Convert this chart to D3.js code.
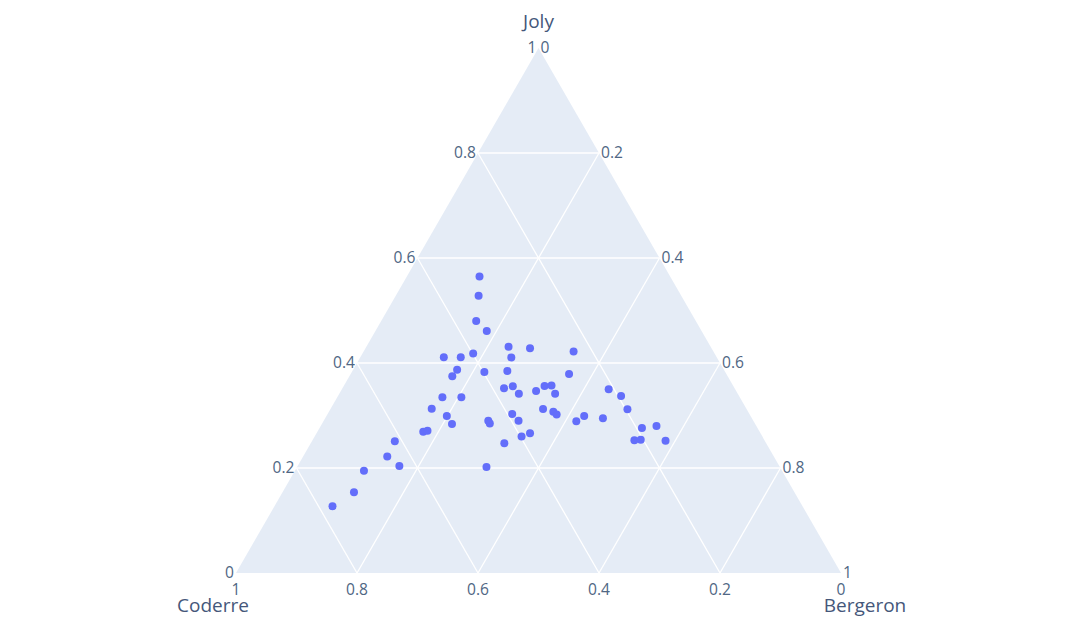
<!DOCTYPE html>
<html>
<head>
<meta charset="utf-8">
<script src="https://cdn.jsdelivr.net/npm/d3@7"></script>
<style>
  html, body { margin: 0; padding: 0; background: #fff; }
  svg { display: block; font-family: "Open Sans", sans-serif; }
</style>
</head>
<body>
<svg id="chart" width="1080" height="635"></svg>
<script>
// Shares per district (Joly = a, Coderre = b, Bergeron = c)
const joly = [0.127,0.154,0.195,0.222,0.204,0.251,0.269,0.271,0.313,0.299,0.284,0.335,0.335,0.375,0.387,0.411,0.411,0.418,0.565,0.528,0.480,0.461,0.383,0.431,0.411,0.385,0.428,0.422,0.290,0.285,0.202,0.247,0.352,0.356,0.342,0.347,0.356,0.357,0.342,0.379,0.303,0.290,0.312,0.307,0.302,0.260,0.266,0.289,0.299,0.295,0.350,0.337,0.312,0.276,0.280,0.253,0.254,0.252];
const coderre = [0.777,0.728,0.691,0.639,0.628,0.612,0.556,0.548,0.520,0.502,0.501,0.492,0.460,0.455,0.441,0.451,0.423,0.399,0.315,0.335,0.363,0.355,0.398,0.334,0.340,0.359,0.300,0.231,0.438,0.438,0.485,0.433,0.381,0.365,0.362,0.331,0.312,0.300,0.302,0.260,0.392,0.388,0.336,0.322,0.319,0.398,0.381,0.293,0.275,0.246,0.209,0.195,0.197,0.191,0.165,0.215,0.204,0.164];
const bergeron = [0.096,0.118,0.114,0.139,0.168,0.137,0.175,0.181,0.167,0.199,0.215,0.174,0.205,0.170,0.172,0.138,0.166,0.183,0.120,0.137,0.157,0.184,0.219,0.235,0.250,0.256,0.272,0.347,0.272,0.277,0.313,0.320,0.267,0.280,0.297,0.323,0.332,0.343,0.357,0.361,0.305,0.322,0.351,0.371,0.379,0.342,0.353,0.418,0.426,0.459,0.441,0.468,0.491,0.533,0.555,0.532,0.542,0.584];

const gridValues = [0.2, 0.4, 0.6, 0.8];
const tickValues = [0, 0.2, 0.4, 0.6, 0.8, 1];
const tickLabels = ["0", "0.2", "0.4", "0.6", "0.8", "1"];
const axisTitles = { a: "Joly", b: "Coderre", c: "Bergeron" };

const svg = d3.select("#chart");
const TICK = "#506784";
const TITLE = "#45577a";
const FS = 15.6;

// Scales: a -> vertical position, horizontal along the base
const yA = d3.scaleLinear().domain([0, 1]).range([573, 48]);
const xBase = d3.scaleLinear().domain([0, 1]).range([236, 841]);

function pos(a, b, c) {
  const s = a + b + c;
  a /= s; b /= s; c /= s;
  return [xBase(c + a / 2), yA(a)];
}

// Triangle background
const A = pos(1, 0, 0), B = pos(0, 1, 0), C = pos(0, 0, 1);
svg.append("path")
  .attr("d", d3.line()([A, B, C]) + "Z")
  .attr("fill", "#E5ECF6");

// Grid lines
const grid = svg.append("g").attr("stroke", "#fff").attr("stroke-width", 1.3).attr("fill", "none");
gridValues.forEach(v => {
  grid.append("path").attr("d", d3.line()([pos(v, 1 - v, 0), pos(v, 0, 1 - v)]));
  grid.append("path").attr("d", d3.line()([pos(0, v, 1 - v), pos(1 - v, v, 0)]));
  grid.append("path").attr("d", d3.line()([pos(0, 1 - v, v), pos(1 - v, 0, v)]));
});

// Tick labels
const ticks = svg.append("g").attr("fill", TICK).attr("font-size", FS);
tickValues.forEach((v, i) => {
  const pa = pos(v, 1 - v, 0);
  ticks.append("text").attr("x", pa[0] - 2).attr("y", pa[1]).attr("dy", "0.35em")
    .attr("text-anchor", "end").text(tickLabels[i]);
  const pb = pos(0, v, 1 - v);
  ticks.append("text").attr("x", pb[0]).attr("y", pb[1] + 17).attr("dy", "0.35em")
    .attr("text-anchor", "middle").text(tickLabels[i]);
  const pc = pos(1 - v, 0, v);
  ticks.append("text").attr("x", pc[0] + 2).attr("y", pc[1]).attr("dy", "0.35em")
    .attr("text-anchor", "start").text(tickLabels[i]);
});

// Axis titles
const titles = svg.append("g").attr("fill", TITLE).attr("font-size", 19).attr("text-anchor", "middle");
titles.append("text").attr("x", A[0]).attr("y", 28).text(axisTitles.a);
titles.append("text").attr("x", B[0] - 23).attr("y", 612).text(axisTitles.b);
titles.append("text").attr("x", C[0] + 24).attr("y", 612).text(axisTitles.c);

// Points
svg.append("g").selectAll("circle")
  .data(joly.map((a, i) => [a, coderre[i], bergeron[i]]))
  .join("circle")
  .attr("cx", d => pos(d[0], d[1], d[2])[0])
  .attr("cy", d => pos(d[0], d[1], d[2])[1])
  .attr("r", 4)
  .attr("fill", "#636efa");
</script>
</body>
</html>
